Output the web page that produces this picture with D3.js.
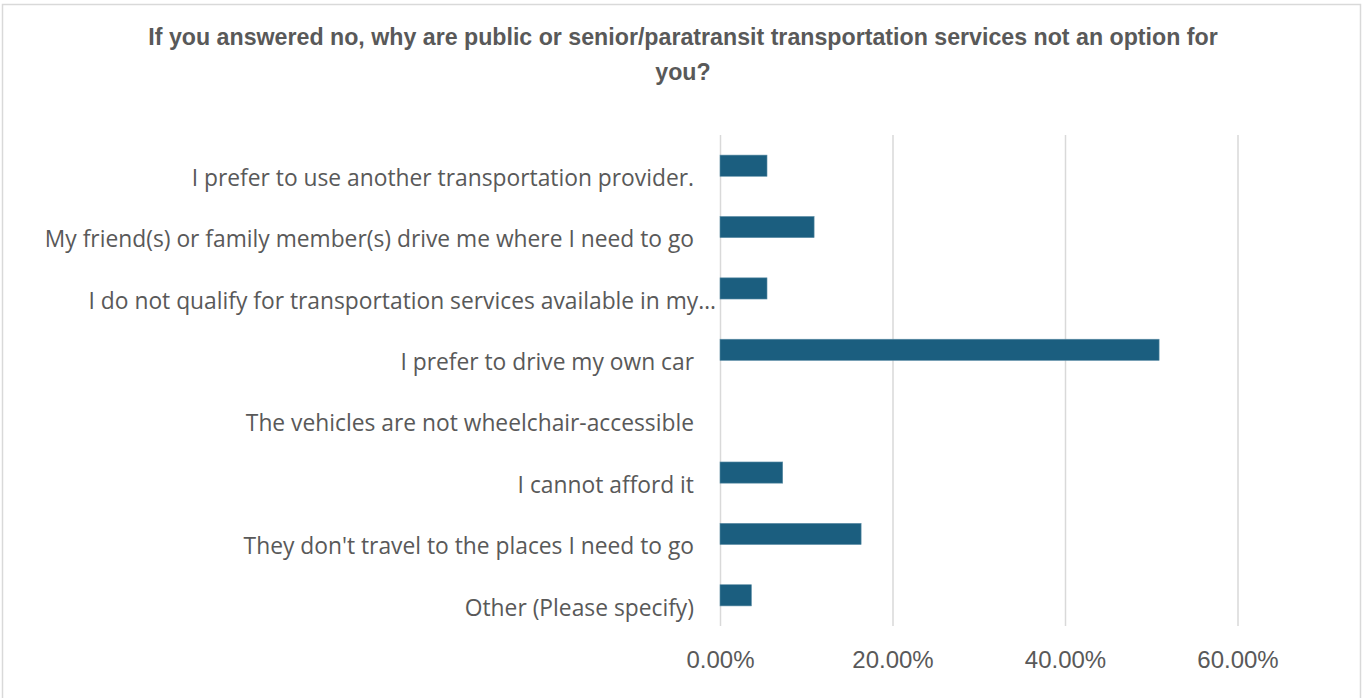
<!DOCTYPE html>
<html>
<head>
<meta charset="utf-8">
<script src="https://cdn.jsdelivr.net/npm/d3@7"></script>
<style>
  html, body { margin: 0; padding: 0; background: #fff; }
  svg { display: block; }
</style>
</head>
<body>
<script>
// Survey responses (share of respondents), listed top to bottom
const categories = [
  "I prefer to use another transportation provider.",
  "My friend(s) or family member(s) drive me where I need to go",
  "I do not qualify for transportation services available in my…",
  "I prefer to drive my own car",
  "The vehicles are not wheelchair-accessible",
  "I cannot afford it",
  "They don't travel to the places I need to go",
  "Other (Please specify)"
];
const shares = [0.0545, 0.1091, 0.0545, 0.5091, 0, 0.0727, 0.1636, 0.0364];
const tickValues = [0, 0.2, 0.4, 0.6];
const titleLines = [
  "If you answered no, why are public or senior/paratransit transportation services not an option for",
  "you?"
];

const W = 1366, H = 698;
const plot = { left: 720, right: 1237.5, top: 135, bottom: 626 };
const gray = "#595959";
const gridColor = "#d9d9d9";
const barColor = "#1b5e7f";

const svg = d3.select("body").append("svg")
  .attr("width", W).attr("height", H);

// chart frame
svg.append("rect")
  .attr("x", 2.5).attr("y", 4.5)
  .attr("width", 1358).attr("height", 700)
  .attr("fill", "#fff")
  .attr("stroke", gridColor).attr("stroke-width", 1.5);

// title
svg.append("g").selectAll("text")
  .data(titleLines)
  .join("text")
  .attr("x", 683)
  .attr("y", (d, i) => 45 + i * 35)
  .attr("text-anchor", "middle")
  .attr("font-family", "'Liberation Sans', Arial, sans-serif")
  .attr("font-weight", "bold")
  .attr("font-size", 23.2)
  .attr("fill", gray)
  .text(d => d);

const x = d3.scaleLinear().domain([0, 0.6]).range([plot.left, plot.right]);
const y = d3.scaleBand()
  .domain(categories)
  .range([plot.top, plot.bottom])
  .paddingInner(0.655)
  .paddingOuter(0.3275);

// vertical gridlines and percentage ticks
const xAxis = d3.axisBottom(x)
  .tickValues(tickValues)
  .tickSize(-(plot.bottom - plot.top))
  .tickPadding(25)
  .tickFormat(d3.format(".2%"));

const gx = svg.append("g")
  .attr("transform", `translate(0,${plot.bottom})`)
  .call(xAxis);
gx.select(".domain").remove();
gx.selectAll(".tick line")
  .attr("stroke", gridColor)
  .attr("stroke-width", 1.5);
gx.selectAll(".tick text")
  .attr("fill", gray)
  .attr("font-family", "'Liberation Sans', Arial, sans-serif")
  .attr("font-size", 24);

// bars
svg.append("g").selectAll("rect")
  .data(categories.map((c, i) => ({ c, v: shares[i] })))
  .join("rect")
  .attr("x", x(0))
  .attr("y", d => y(d.c))
  .attr("width", d => x(d.v) - x(0))
  .attr("height", y.bandwidth())
  .attr("fill", barColor)
  .attr("stroke", "#5d8ea6")
  .attr("stroke-width", 0.6);

// category labels, sitting slightly below each bar
const yAxis = d3.axisLeft(y).tickSize(0).tickPadding(26);
const gy = svg.append("g")
  .attr("transform", `translate(${plot.left},0)`)
  .call(yAxis);
gy.select(".domain").remove();
gy.selectAll(".tick text")
  .attr("fill", gray)
  .attr("font-family", "'Open Sans', sans-serif")
  .attr("font-size", 22.8)
  .attr("dy", "0.32em")
  .attr("transform", "translate(0,13)")
  .attr("dx", d => d.endsWith("…") ? 22 : 0);
</script>
</body>
</html>
